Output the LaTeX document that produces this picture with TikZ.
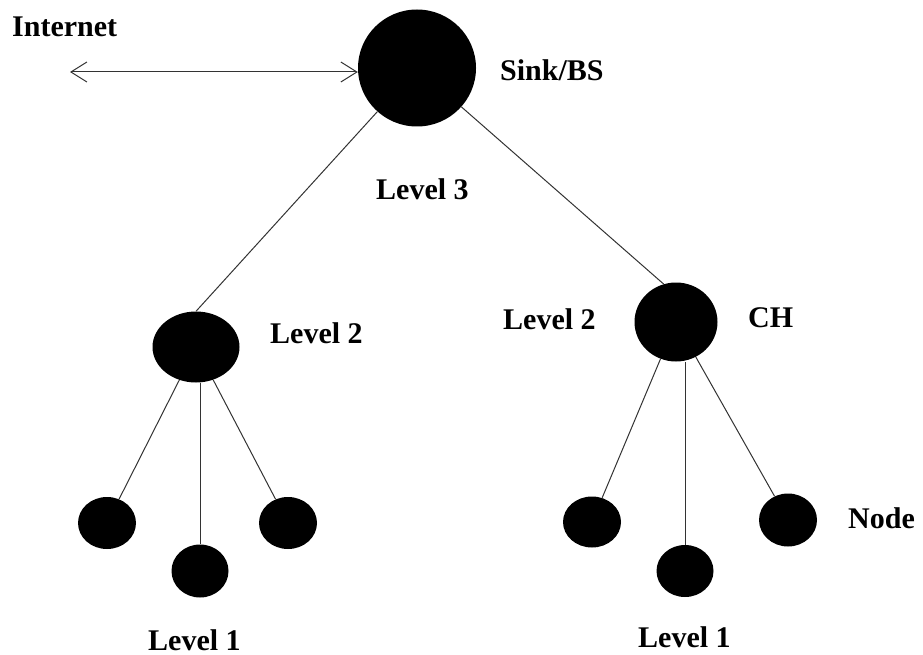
\documentclass[tikz,border=0pt]{standalone}
\usepackage{fontspec}
\setmainfont{Liberation Serif}
\usetikzlibrary{arrows.meta,shapes.geometric}
\begin{document}
\begin{tikzpicture}[x=1pt,y=-1pt,
  dot/.style={ellipse,fill=black,draw=none,inner sep=0pt},
  lbl/.style={font=\fontsize{30}{32}\selectfont\bfseries,inner sep=0pt,anchor=west},
  link/.style={draw=black!80,line width=1pt}]
\useasboundingbox (0,0) rectangle (923,655);
% nodes
\node[dot,minimum width=118pt,minimum height=117pt] (sink) at (417,68) {};
\node[dot,minimum width=87pt,minimum height=71pt] (l2) at (196,347) {};
\node[dot,minimum width=83pt,minimum height=79pt] (ch) at (676,322) {};
\node[dot,minimum width=58pt,minimum height=52pt] (a1) at (107,523) {};
\node[dot,minimum width=57pt,minimum height=53pt] (a2) at (200,571) {};
\node[dot,minimum width=58pt,minimum height=52pt] (a3) at (288,523) {};
\node[dot,minimum width=58pt,minimum height=51pt] (b1) at (592,522) {};
\node[dot,minimum width=57pt,minimum height=52pt] (b2) at (685,571) {};
\node[dot,minimum width=58pt,minimum height=53pt] (b3) at (788,520) {};
\coordinate (inet) at (70,72);
% labels
\node[lbl] (tInternet) at (12,27) {Internet};
\node[lbl] (tSink) at (500,70) {Sink/BS};
\node[lbl] (tL3) at (376,189) {Level 3};
\node[lbl] (tL2a) at (270,333) {Level 2};
\node[lbl] (tL2b) at (503,319) {Level 2};
\node[lbl] (tCH) at (748,318) {CH};
\node[lbl] (tNode) at (848,518) {Node};
\node[lbl] (tL1a) at (148,640) {Level 1};
\node[lbl] (tL1b) at (638,637) {Level 1};
% connectors
\draw[link,{Straight Barb[length=16pt,width=20pt]}-{Straight Barb[length=16pt,width=20pt]}] (inet) -- (sink.west |- inet);
\draw[link] (sink) -- (l2.north);
\draw[link] (sink) -- (ch.108);
\draw[link] (l2) -- (a1);
\draw[link] (a2.north) -- (a2.north |- l2.south);
\draw[link] (l2) -- (a3);
\draw[link] (ch) -- (b1);
\draw[link] (b2.north) -- (b2.north |- ch.south);
\draw[link] (ch) -- (b3);
\end{tikzpicture}
\end{document}
